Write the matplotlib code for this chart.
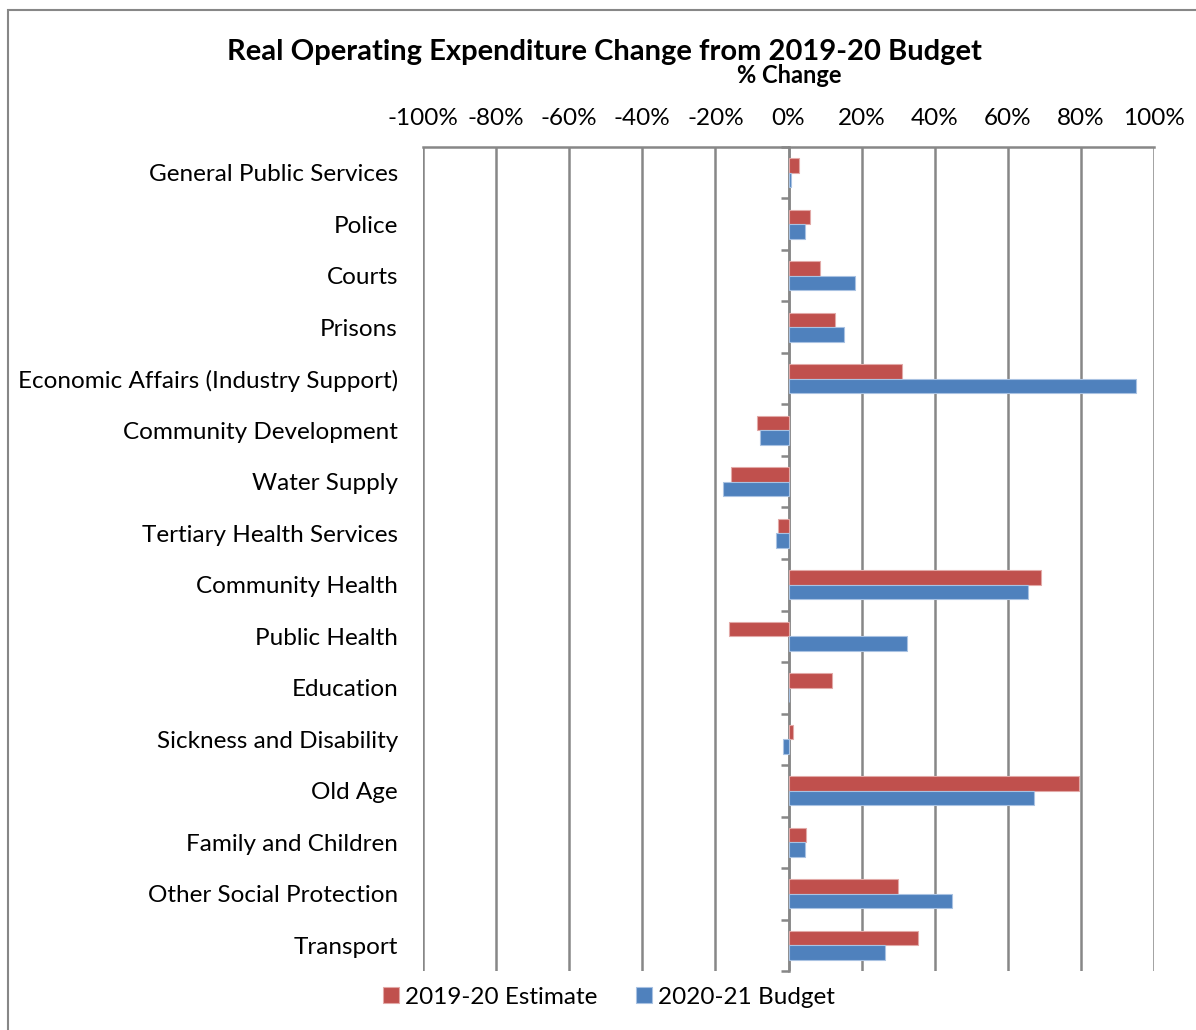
# Real operating expenditure change chart, excel style horizontal bars

import matplotlib.pyplot as plt
from matplotlib.lines import Line2D
from matplotlib.ticker import FixedLocator

plt.rcParams['font.family'] = ['Lato', 'DejaVu Sans']

categories = ['General Public Services', 'Police', 'Courts', 'Prisons',
              'Economic Affairs (Industry Support)', 'Community Development',
              'Water Supply', 'Tertiary Health Services', 'Community Health',
              'Public Health', 'Education', 'Sickness and Disability', 'Old Age',
              'Family and Children', 'Other Social Protection', 'Transport']
estimate_1920 = [3.0, 5.9, 8.6, 12.7, 31.1, -8.6, -15.7, -2.9, 69.0, -16.3, 12.0,
                 1.3, 79.6, 4.8, 30.0, 35.5]
budget_2021 = [0.6, 4.4, 18.2, 15.3, 95.2, -7.9, -17.9, -3.4, 65.4, 32.5, 0.0,
               -1.5, 67.3, 4.5, 44.7, 26.5]
xticks = list(range(-100, 101, 20))

red = '#C0504D'
blue = '#4F81BD'
grey = '#878787'

fig = plt.figure(figsize=(11.96, 10.30), dpi=100)
ax = fig.add_axes([423/1196, 1 - 971/1030, 731/1196, 824/1030])

n = len(categories)
pos = list(range(n))
h = 0.28
ax.barh([p - h/2 for p in pos], estimate_1920, height=h, color=red,
        edgecolor='#E2A9A7', linewidth=0.8, label='2019-20 Estimate', zorder=3)
ax.barh([p + h/2 for p in pos], budget_2021, height=h, color=blue,
        edgecolor='#A9C2E2', linewidth=0.8, label='2020-21 Budget', zorder=3)

ax.set_xlim(-100, 100)
ax.set_ylim(n - 0.5, -0.5)

# x axis on top
ax.xaxis.set_ticks_position('top')
ax.set_xticks(xticks)
ax.set_xticklabels([f'{t}%' for t in xticks], fontsize=17.5)
ax.tick_params(axis='x', length=0, pad=13)
ax.grid(axis='x', color=grey, linewidth=1.8, zorder=0)

for s in ['bottom', 'right']:
    ax.spines[s].set_visible(False)
ax.spines['top'].set_color(grey)
ax.spines['top'].set_linewidth(1.8)

# vertical axis crosses at 0 with boundary ticks
ax.spines['left'].set_position(('data', 0))
ax.spines['left'].set_color(grey)
ax.spines['left'].set_linewidth(1.8)
ax.set_yticks(pos)
ax.set_yticklabels([])
ax.tick_params(axis='y', which='major', length=0)
ax.yaxis.set_minor_locator(FixedLocator([p - 0.5 for p in pos] + [n - 0.5]))
ax.tick_params(axis='y', which='minor', length=6, width=1.8, color=grey,
               direction='out')

# category labels at the far left
sec = ax.secondary_yaxis('left')
sec.set_yticks(pos)
sec.set_yticklabels(categories, fontsize=17.5)
sec.tick_params(length=0, pad=18)
sec.spines['left'].set_visible(False)

fig.text(0.505, 0.9495, 'Real Operating Expenditure Change from 2019-20 Budget',
         ha='center', va='center', fontsize=21, fontweight='bold')
fig.text(0.6597, 0.927, '% Change', ha='center', va='center', fontsize=17,
         fontweight='bold')

fig.legend(loc='center', bbox_to_anchor=(0.509, 0.032), ncol=2, frameon=False,
           fontsize=17.5, handlelength=0.65, handleheight=0.65, columnspacing=1.6,
           handletextpad=0.25)

# chart frame, cut at right and bottom like the original
fig.add_artist(Line2D([10/1196, 1], [1 - 10/1030, 1 - 10/1030],
                      color=grey, linewidth=1.5))
fig.add_artist(Line2D([8/1196, 8/1196], [0, 1 - 10/1030],
                      color=grey, linewidth=1.5))

fig.savefig('out.png', dpi=100)
